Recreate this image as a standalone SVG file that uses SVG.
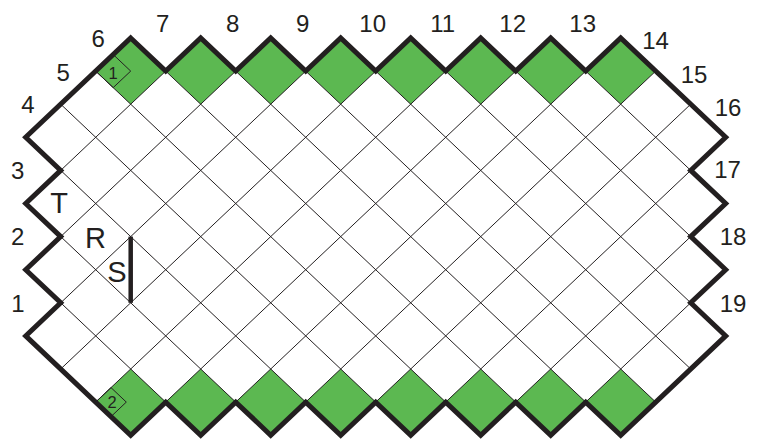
<svg xmlns="http://www.w3.org/2000/svg" xmlns:xlink="http://www.w3.org/1999/xlink" width="760" height="445" viewBox="0 0 760 445">
  <style>
    .grid { fill: none; stroke: #231f20; stroke-width: 1; }
    .thick { fill: none; stroke: #231f20; stroke-width: 5; stroke-linejoin: miter; stroke-miterlimit: 10; }
    .green { fill: #5cb851; stroke: none; }
    .mark { fill: none; stroke: #231f20; stroke-width: 1; }
    .num { font-family: "Liberation Sans", Arial, sans-serif; font-size: 24px; fill: #231f20; text-anchor: middle; }
    .let { font-family: "Liberation Sans", Arial, sans-serif; font-size: 29px; fill: #231f20; text-anchor: middle; }
    .small { font-family: "Liberation Sans", Arial, sans-serif; font-size: 16.5px; fill: #231f20; text-anchor: middle; }
  </style>
  <defs>
    <path id="cell" d="M0,-33.1 L35,0 L0,33.1 L-35,0 Z"/>
    <clipPath id="board">
      <polygon points="130.7,38 165.7,71.1 200.7,38 235.7,71.1 270.7,38 305.7,71.1 340.7,38 375.7,71.1 410.7,38 445.7,71.1 480.7,38 515.7,71.1 550.7,38 585.7,71.1 620.7,38 725.7,137.3 690.7,170.4 725.7,203.5 690.7,236.6 725.7,269.7 690.7,302.8 725.7,335.9 620.7,435.2 585.7,402.1 550.7,435.2 515.7,402.1 480.7,435.2 445.7,402.1 410.7,435.2 375.7,402.1 340.7,435.2 305.7,402.1 270.7,435.2 235.7,402.1 200.7,435.2 165.7,402.1 130.7,435.2 25.7,335.9 60.7,302.8 25.7,269.7 60.7,236.6 25.7,203.5 60.7,170.4 25.7,137.3"/>
    </clipPath>
  </defs>
  <rect width="760" height="445" fill="#ffffff"/>

  <g id="green-top">
    <use xlink:href="#cell" href="#cell" class="green" x="130.7" y="71.1"/>
    <use xlink:href="#cell" href="#cell" class="green" x="200.7" y="71.1"/>
    <use xlink:href="#cell" href="#cell" class="green" x="270.7" y="71.1"/>
    <use xlink:href="#cell" href="#cell" class="green" x="340.7" y="71.1"/>
    <use xlink:href="#cell" href="#cell" class="green" x="410.7" y="71.1"/>
    <use xlink:href="#cell" href="#cell" class="green" x="480.7" y="71.1"/>
    <use xlink:href="#cell" href="#cell" class="green" x="550.7" y="71.1"/>
    <use xlink:href="#cell" href="#cell" class="green" x="620.7" y="71.1"/>
  </g>
  <g id="green-bottom">
    <use xlink:href="#cell" href="#cell" class="green" x="130.7" y="402.1"/>
    <use xlink:href="#cell" href="#cell" class="green" x="200.7" y="402.1"/>
    <use xlink:href="#cell" href="#cell" class="green" x="270.7" y="402.1"/>
    <use xlink:href="#cell" href="#cell" class="green" x="340.7" y="402.1"/>
    <use xlink:href="#cell" href="#cell" class="green" x="410.7" y="402.1"/>
    <use xlink:href="#cell" href="#cell" class="green" x="480.7" y="402.1"/>
    <use xlink:href="#cell" href="#cell" class="green" x="550.7" y="402.1"/>
    <use xlink:href="#cell" href="#cell" class="green" x="620.7" y="402.1"/>
  </g>

  <g id="grid" clip-path="url(#board)">
    <path class="grid" d="
      M-289.3,38 L130.7,435.2 M-219.3,38 L200.7,435.2 M-149.3,38 L270.7,435.2 M-79.3,38 L340.7,435.2
      M-9.3,38 L410.7,435.2 M60.7,38 L480.7,435.2 M130.7,38 L550.7,435.2 M200.7,38 L620.7,435.2
      M270.7,38 L690.7,435.2 M340.7,38 L760.7,435.2 M410.7,38 L830.7,435.2 M480.7,38 L900.7,435.2
      M550.7,38 L970.7,435.2 M620.7,38 L1040.7,435.2
      M130.7,38 L-289.3,435.2 M200.7,38 L-219.3,435.2 M270.7,38 L-149.3,435.2 M340.7,38 L-79.3,435.2
      M410.7,38 L-9.3,435.2 M480.7,38 L60.7,435.2 M550.7,38 L130.7,435.2 M620.7,38 L200.7,435.2
      M690.7,38 L270.7,435.2 M760.7,38 L340.7,435.2 M830.7,38 L410.7,435.2 M900.7,38 L480.7,435.2
      M970.7,38 L550.7,435.2 M1040.7,38 L620.7,435.2"/>
  </g>

  <g id="border">
    <polygon class="thick" points="130.7,38 165.7,71.1 200.7,38 235.7,71.1 270.7,38 305.7,71.1 340.7,38 375.7,71.1 410.7,38 445.7,71.1 480.7,38 515.7,71.1 550.7,38 585.7,71.1 620.7,38 725.7,137.3 690.7,170.4 725.7,203.5 690.7,236.6 725.7,269.7 690.7,302.8 725.7,335.9 620.7,435.2 585.7,402.1 550.7,435.2 515.7,402.1 480.7,435.2 445.7,402.1 410.7,435.2 375.7,402.1 340.7,435.2 305.7,402.1 270.7,435.2 235.7,402.1 200.7,435.2 165.7,402.1 130.7,435.2 25.7,335.9 60.7,302.8 25.7,269.7 60.7,236.6 25.7,203.5 60.7,170.4 25.7,137.3"/>
  </g>

  <g id="marker-1">
    <polygon class="mark" points="95.7,71.1 113.2,54.5 130.7,71.1 113.2,87.6"/>
    <text class="small" x="113" y="79.3">1</text>
  </g>
  <g id="marker-2">
    <polygon class="mark" points="95.7,402.1 111,387.6 126.3,402.1 111,416.6"/>
    <text class="small" x="112" y="408.3">2</text>
  </g>

  <g id="wall-S">
    <line x1="130.7" y1="236.6" x2="130.7" y2="302.8" stroke="#231f20" stroke-width="4.5"/>
  </g>

  <g id="cell-letters">
    <text class="let" x="59" y="213">T</text>
    <text class="let" x="95.5" y="247.7">R</text>
    <text class="let" x="117" y="281.5">S</text>
  </g>

  <g id="edge-numbers">
    <text class="num" x="18" y="311.7">1</text>
    <text class="num" x="17.7" y="245">2</text>
    <text class="num" x="17.7" y="179.3">3</text>
    <text class="num" x="28" y="113.3">4</text>
    <text class="num" x="63.3" y="80.7">5</text>
    <text class="num" x="98.3" y="46.7">6</text>
    <text class="num" x="162.7" y="31.7">7</text>
    <text class="num" x="232.7" y="31.7">8</text>
    <text class="num" x="302.7" y="31.7">9</text>
    <text class="num" x="372.7" y="31.7">10</text>
    <text class="num" x="442.7" y="31.7">11</text>
    <text class="num" x="512.7" y="31.7">12</text>
    <text class="num" x="582.7" y="31.7">13</text>
    <text class="num" x="655.5" y="49.3">14</text>
    <text class="num" x="694" y="82.7">15</text>
    <text class="num" x="728" y="116">16</text>
    <text class="num" x="727.5" y="178.3">17</text>
    <text class="num" x="733" y="245">18</text>
    <text class="num" x="733" y="312">19</text>
  </g>
</svg>
